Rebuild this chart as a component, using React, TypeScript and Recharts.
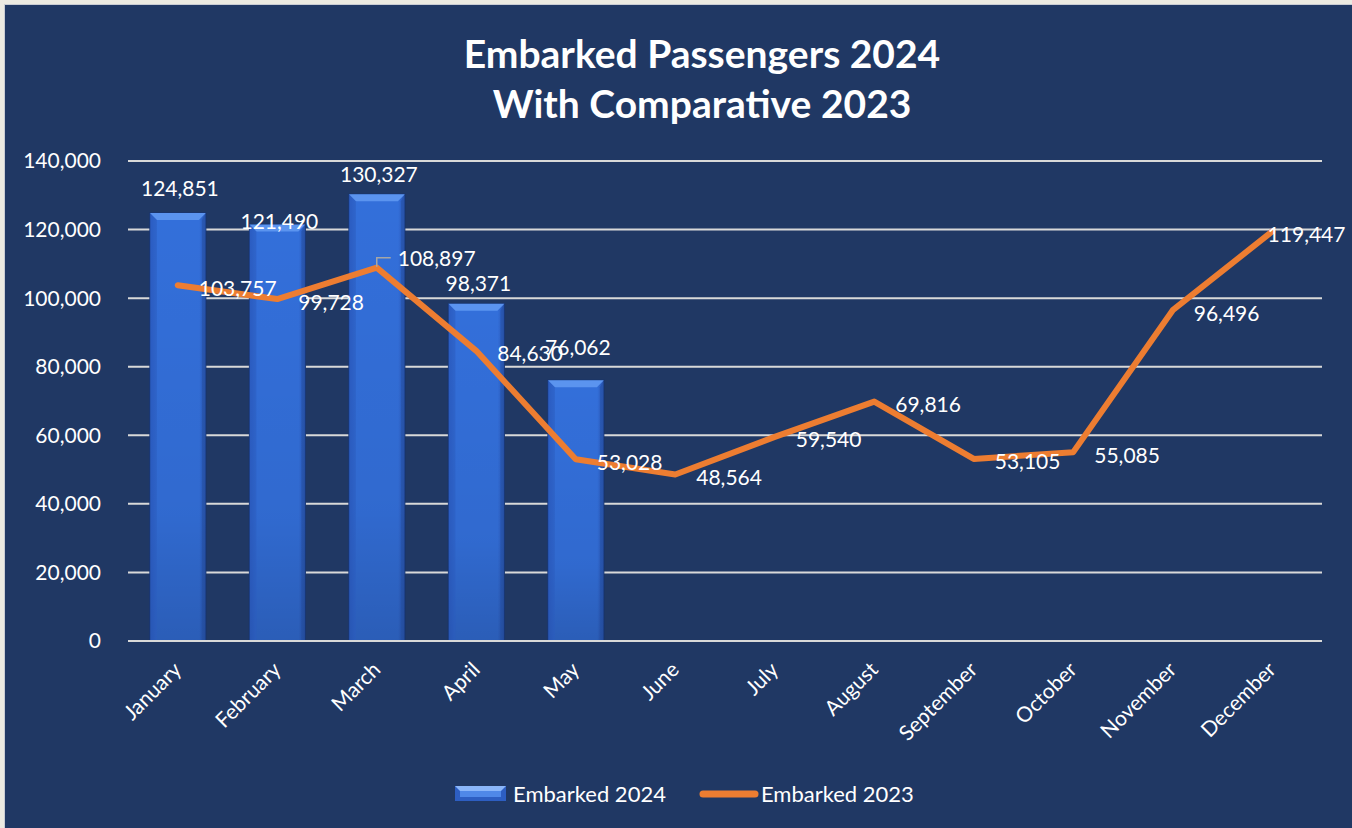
import React from 'react';
import { ComposedChart, Bar, Line, XAxis, YAxis, CartesianGrid, LabelList, Legend } from 'recharts';

const months = ['January', 'February', 'March', 'April', 'May', 'June', 'July', 'August', 'September', 'October', 'November', 'December'];
const embarked2024: (number | null)[] = [124851, 121490, 130327, 98371, 76062, null, null, null, null, null, null, null];
const embarked2023: number[] = [103757, 99728, 108897, 84630, 53028, 48564, 59540, 69816, 53105, 55085, 96496, 119447];
const yTicks = [0, 20000, 40000, 60000, 80000, 100000, 120000, 140000];
const seriesNames = ['Embarked 2024', 'Embarked 2023'];
const titleLines = ['Embarked Passengers 2024', 'With Comparative 2023'];

const data = months.map((m, i) => ({ month: m, e2024: embarked2024[i], e2023: embarked2023[i] }));

// style constants
const NAVY = '#203864';
const ORANGE = '#ED7D31';
const FONT = 'Lato, "Open Sans", sans-serif';
const CHART_W = 1347;
const CHART_H = 823;
const barLabelLift = [25, 4, 21, 21, 34];

const fmt = (v: number) => v.toLocaleString('en-US');

const BevelBar = (props: any) => {
  const { x, y, width, height } = props;
  if (!height || height <= 0) return null;
  const b = 7;
  return (
    <g>
      <rect x={x} y={y} width={width} height={height} fill="url(#barBody)" stroke="#17336E" strokeWidth={1} />
      <rect x={x} y={y} width={width} height={height} fill="url(#barShade)" />
      <polygon points={`${x},${y} ${x + width},${y} ${x + width - b},${y + b} ${x + b},${y + b}`} fill="#5B94EF" />
      <polygon points={`${x},${y} ${x + b},${y + b} ${x + b},${y + height} ${x},${y + height}`} fill="#2C5CC0" opacity={0.55} />
      <polygon points={`${x + width},${y} ${x + width - b + 3},${y + b} ${x + width - b + 3},${y + height} ${x + width},${y + height}`} fill="#234E9E" opacity={0.5} />
    </g>
  );
};

const BarLabel = (props: any) => {
  const { x, y, width, value, index } = props;
  if (value == null) return null;
  const lift = barLabelLift[index] ?? 22;
  return (
    <text x={x + width / 2 + 2} y={y - lift} fill="#FFFFFF" fontSize={21} fontFamily={FONT} textAnchor="middle" dominantBaseline="central">
      {fmt(value)}
    </text>
  );
};

const LineLabel = (props: any) => {
  const { x, y, value, index } = props;
  if (value == null) return null;
  const text = fmt(value);
  const w = text.length * 11.2;
  let tx = x + 21;
  if (tx + w > CHART_W - 6) tx = CHART_W - 6 - w;
  let ty = y + 2;
  let leader = null;
  if (index === 2) {
    ty = y - 10;
    leader = <path d={`M${x},${y - 1} L${x},${y - 10} L${x + 14},${y - 10}`} stroke="#A6A6A6" strokeWidth={1.5} fill="none" />;
  }
  return (
    <g>
      {leader}
      <text x={tx} y={ty} fill="#FFFFFF" fontSize={21} fontFamily={FONT} dominantBaseline="central">
        {text}
      </text>
    </g>
  );
};

const XTick = (props: any) => {
  const { x, y, payload } = props;
  return (
    <g transform={`translate(${x + 5},${y + 30})`}>
      <text textAnchor="end" transform="rotate(-45)" fill="#FFFFFF" fontSize={21} fontFamily={FONT}>
        {payload.value}
      </text>
    </g>
  );
};

const LegendContent = () => (
  <div style={{ display: 'flex', alignItems: 'center', fontFamily: FONT, fontSize: 22, color: '#FFFFFF', whiteSpace: 'nowrap' }}>
    <svg width={52} height={16} style={{ marginRight: 6 }}>
      <rect x={0} y={0} width={51} height={15} fill="#2D5EC2" />
      <polygon points="0,0 51,0 46,5 5,5" fill="#8AB6FA" />
      <rect x={5} y={5} width={41} height={6} fill="#4F88E8" />
    </svg>
    <span style={{ marginRight: 33 }}>{seriesNames[0]}</span>
    <svg width={60} height={10} style={{ marginRight: 2 }}>
      <line x1={4} y1={5} x2={56} y2={5} stroke={ORANGE} strokeWidth={7} strokeLinecap="round" />
    </svg>
    <span>{seriesNames[1]}</span>
  </div>
);

export default function App() {
  return (
    <div style={{ position: 'absolute', left: 0, top: 0, width: 1352, height: 828, background: '#ECEAE2', overflow: 'hidden' }}>
      <div style={{ position: 'absolute', left: 5, top: 5, width: CHART_W, height: CHART_H, background: NAVY, boxShadow: '0 0 0 1px #C9CCD3' }}>
        <div
          style={{
            position: 'absolute',
            left: 397,
            top: 23,
            width: 600,
            textAlign: 'center',
            color: '#FFFFFF',
            fontFamily: FONT,
            fontWeight: 700,
            fontSize: 39,
            lineHeight: '50px',
          }}
        >
          <div>{titleLines[0]}</div>
          <div>{titleLines[1]}</div>
        </div>
        <ComposedChart
          width={CHART_W}
          height={CHART_H}
          data={data}
          margin={{ top: 156, right: 30, left: 0, bottom: 87 }}
          barCategoryGap="22%"
        >
          <defs>
            <linearGradient id="barBody" x1="0" y1="0" x2="1" y2="0">
              <stop offset="0%" stopColor="#2B5BC4" />
              <stop offset="12%" stopColor="#336FDA" />
              <stop offset="88%" stopColor="#336FDA" />
              <stop offset="100%" stopColor="#2A56B5" />
            </linearGradient>
            <linearGradient id="barShade" x1="0" y1="0" x2="0" y2="1">
              <stop offset="0%" stopColor="#000000" stopOpacity={0} />
              <stop offset="70%" stopColor="#000000" stopOpacity={0.05} />
              <stop offset="100%" stopColor="#000000" stopOpacity={0.16} />
            </linearGradient>
          </defs>
          <CartesianGrid vertical={false} stroke="#D9D9D9" strokeWidth={2} />
          <XAxis
            dataKey="month"
            height={100}
            tickSize={0}
            tickMargin={0}
            interval={0}
            axisLine={{ stroke: '#D9D9D9', strokeWidth: 2 }}
            tickLine={false}
            tick={<XTick />}
          />
          <YAxis
            width={123}
            domain={[0, 140000]}
            ticks={yTicks}
            allowDataOverflow
            tickSize={0}
            tickMargin={27}
            axisLine={false}
            tickLine={false}
            tickFormatter={(v: number) => fmt(v)}
            tick={{ fill: '#FFFFFF', fontSize: 21, fontFamily: FONT }}
          />
          <Legend
            layout="horizontal"
            verticalAlign="middle"
            align="center"
            wrapperStyle={{ position: 'absolute', left: 450, top: 775, width: 'auto' }}
            content={<LegendContent />}
          />
          <Bar dataKey="e2024" name={seriesNames[0]} shape={<BevelBar />} isAnimationActive={false}>
            <LabelList dataKey="e2024" content={<BarLabel />} />
          </Bar>
          <Line
            dataKey="e2023"
            name={seriesNames[1]}
            stroke={ORANGE}
            strokeWidth={6}
            strokeLinejoin="round"
            strokeLinecap="round"
            dot={false}
            activeDot={false}
            isAnimationActive={false}
          >
            <LabelList dataKey="e2023" content={<LineLabel />} />
          </Line>
        </ComposedChart>
      </div>
    </div>
  );
}
